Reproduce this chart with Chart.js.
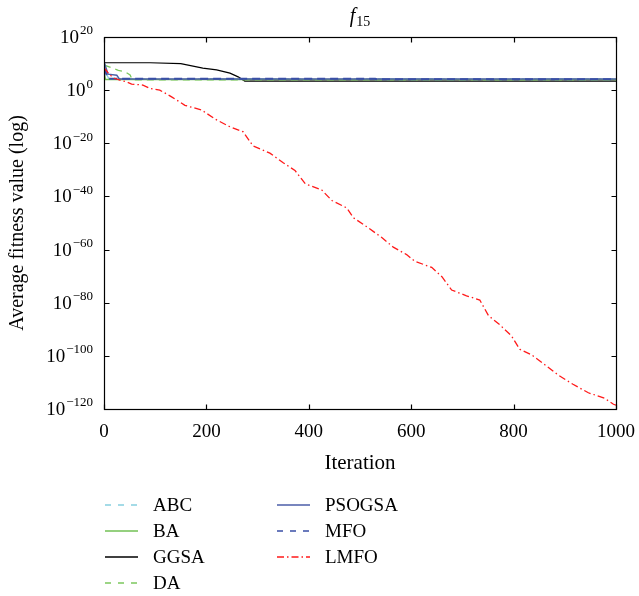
<!DOCTYPE html>
<html>
<head>
<meta charset="utf-8">
<script src="https://cdn.jsdelivr.net/npm/chart.js@4/dist/chart.umd.min.js"></script>
<style>
  html, body { margin: 0; padding: 0; background: #fff; }
  #wrap { width: 639px; height: 596px; }
</style>
</head>
<body>
<div id="wrap"><canvas id="c" width="639" height="596"></canvas></div>
<script>
// ---- data ----
const seriesNames = ['ABC', 'BA', 'GGSA', 'DA', 'PSOGSA', 'MFO', 'LMFO'];
const xTickValues = [0, 200, 400, 600, 800, 1000];
const yTickExponents = [20, 0, -20, -40, -60, -80, -100, -120];

const abcIter = [0, 5, 10, 1000];
const abcVal  = [1e11, 1e6, 1.3e4, 1.3e4];

const baIter = [0, 3, 1000];
const baVal  = [1e7, 1e4, 1e4];

const ggsaIter = [0, 90, 150, 193, 220, 246, 262, 275, 1000];
const ggsaVal  = [2e10, 2e10, 1e10, 2e8, 4e7, 2.5e6, 1e5, 2.5e3, 2.5e3];

const daIter = [0, 10, 28, 41, 51, 55, 1000];
const daVal  = [3e9, 6e8, 3e7, 8e6, 5e5, 8e3, 8e3];

const psogsaIter = [0, 8, 25, 30, 1000];
const psogsaVal  = [5e10, 1e6, 4e5, 1.6e4, 1.6e4];

const mfoIter = [0, 8, 530, 531, 1000];
const mfoVal  = [3e8, 1.8e4, 1.8e4, 1.3e4, 1.3e4];

const lmfoIter = [0, 10, 20, 31, 44, 54, 76, 90, 109, 132, 158, 191, 217, 246, 272, 291, 324, 350, 373, 393, 425, 445, 474, 487, 516, 542, 565, 591, 607, 640, 660, 679, 708, 734, 751, 773, 796, 812, 835, 858, 887, 916, 946, 978, 995, 1000];
const lmfoVal  = [3e8, 1e6, 3e4, 6e3, 1.3e3, 2e2, 80, 4, 1, 3e-3, 2e-6, 3e-8, 1.3e-11, 1.6e-14, 2e-16, 1e-21, 2e-24, 5e-28, 6e-31, 6e-36, 3e-38, 3e-42, 5e-45, 1e-48, 1.6e-52, 4e-56, 8e-60, 1.3e-62, 4e-65, 2e-67, 6e-71, 6e-76, 4e-78, 1e-79, 1.3e-85, 5e-89, 3e-93, 3e-98, 2.5e-100, 1.3e-103, 6e-108, 2e-111, 1.3e-114, 1e-116, 6e-119, 3e-119];

// ---- styles ----
const styles = [
  { color: '#86cfe0', dash: [7, 5], width: 1.3 },
  { color: '#72c054', dash: [], width: 1.3 },
  { color: '#000000', dash: [], width: 1.2 },
  { color: '#7cc85e', dash: [7, 5], width: 1.3 },
  { color: '#4b5ea8', dash: [], width: 1.4 },
  { color: '#3a4fa6', dash: [8, 5], width: 2 },
  { color: '#ff1a1a', dash: [7, 3, 1.5, 3], width: 1.3 }
];
const iters = [abcIter, baIter, ggsaIter, daIter, psogsaIter, mfoIter, lmfoIter];
const vals  = [abcVal, baVal, ggsaVal, daVal, psogsaVal, mfoVal, lmfoVal];

const datasets = seriesNames.map((name, i) => ({
  label: name,
  data: iters[i].map((x, k) => ({ x: x, y: vals[i][k] })),
  borderColor: styles[i].color,
  backgroundColor: styles[i].color,
  borderDash: styles[i].dash,
  borderWidth: styles[i].width,
  pointRadius: 0,
  tension: 0,
  fill: false,
  order: seriesNames.length - i
}));

const SERIF = "'Liberation Serif', 'DejaVu Serif', serif";

// frame with inward ticks (MATLAB box style) + power-of-ten y labels
const framePlugin = {
  id: 'frame',
  afterDatasetsDraw(chart) {
    const { ctx, chartArea: a, scales } = chart;
    ctx.save();
    ctx.strokeStyle = '#000';
    ctx.lineWidth = 1.2;
    ctx.setLineDash([]);
    const L = Math.round(a.left) + 0.5, R = Math.round(a.right) + 0.5;
    const T = Math.round(a.top) + 0.5, B = Math.round(a.bottom) + 0.5;
    ctx.strokeRect(L, T, R - L, B - T);
    const tl = 5;
    ctx.beginPath();
    scales.x.ticks.forEach(t => {
      const px = Math.round(scales.x.getPixelForValue(t.value)) + 0.5;
      ctx.moveTo(px, B); ctx.lineTo(px, B - tl);
      ctx.moveTo(px, T); ctx.lineTo(px, T + tl);
    });
    scales.y.ticks.forEach(t => {
      const py = Math.round(scales.y.getPixelForValue(t.value)) + 0.5;
      ctx.moveTo(L, py); ctx.lineTo(L + tl, py);
      ctx.moveTo(R, py); ctx.lineTo(R - tl, py);
    });
    ctx.stroke();

    // y tick labels: "10" with superscript exponent
    ctx.fillStyle = '#000';
    ctx.textBaseline = 'middle';
    ctx.textAlign = 'left';
    scales.y.ticks.forEach(t => {
      const e = Math.round(Math.log10(t.value));
      const expStr = e < 0 ? '\u2212' + String(-e) : String(e);
      const py = scales.y.getPixelForValue(t.value);
      ctx.font = '19px ' + SERIF;
      const bw = ctx.measureText('10').width;
      ctx.font = '13px ' + SERIF;
      const ew = ctx.measureText(expStr).width;
      const right = a.left - 11;
      const x0 = right - bw - ew - 1;
      ctx.font = '19px ' + SERIF;
      ctx.fillText('10', x0, py + 1);
      ctx.font = '13px ' + SERIF;
      ctx.fillText(expStr, x0 + bw + 1, py - 6);
    });
    ctx.restore();
  }
};

// title f15 (italic f, upright subscript)
const titlePlugin = {
  id: 'subTitle',
  afterDraw(chart) {
    const { ctx, chartArea: a } = chart;
    ctx.save();
    ctx.fillStyle = '#000';
    ctx.textBaseline = 'alphabetic';
    ctx.font = 'italic 20px ' + SERIF;
    const fW = ctx.measureText('f').width;
    ctx.font = '14px ' + SERIF;
    const sW = ctx.measureText('15').width;
    const cx = (a.left + a.right) / 2;
    const x0 = cx - (fW + sW + 1) / 2;
    ctx.font = 'italic 20px ' + SERIF;
    ctx.fillText('f', x0, 22);
    ctx.font = '14px ' + SERIF;
    ctx.fillText('15', x0 + fW + 1, 26);
    ctx.restore();
  }
};

// two-column legend below the axes
const legendPlugin = {
  id: 'colLegend',
  afterDraw(chart) {
    const { ctx } = chart;
    const cols = [{ lx: 105, tx: 153 }, { lx: 277, tx: 325 }];
    const rowY = [505, 531, 557, 583];
    const lineLen = 33;
    ctx.save();
    chart.data.datasets.forEach((ds, i) => {
      const col = cols[i < 4 ? 0 : 1];
      const y = rowY[i < 4 ? i : i - 4];
      ctx.beginPath();
      ctx.strokeStyle = ds.borderColor;
      ctx.lineWidth = 1.6;
      ctx.setLineDash(ds.borderDash.length === 2 ? [6, 7] : ds.borderDash);
      ctx.moveTo(col.lx, y);
      ctx.lineTo(col.lx + lineLen, y);
      ctx.stroke();
      ctx.setLineDash([]);
      ctx.fillStyle = '#000';
      ctx.font = '19px ' + SERIF;
      ctx.textBaseline = 'middle';
      ctx.fillText(ds.label, col.tx, y + 1);
    });
    ctx.restore();
  }
};

new Chart(document.getElementById('c'), {
  type: 'line',
  data: { datasets: datasets },
  plugins: [framePlugin, titlePlugin, legendPlugin],
  options: {
    responsive: false,
    devicePixelRatio: 1,
    animation: false,
    layout: { padding: { left: 0, right: 22, top: 37, bottom: 120 } },
    plugins: {
      legend: { display: false },
      title: { display: false },
      tooltip: { enabled: false }
    },
    scales: {
      x: {
        type: 'linear',
        min: 0,
        max: 1000,
        afterBuildTicks(scale) { scale.ticks = xTickValues.map(v => ({ value: v })); },
        afterFit(scale) { scale.height = 67; },
        grid: { display: false },
        border: { display: false },
        ticks: { color: '#000', font: { family: SERIF, size: 19 }, padding: 4, maxRotation: 0, callback: (v) => String(v) },
        title: { display: true, text: 'Iteration', color: '#000', font: { family: SERIF, size: 21 }, padding: { top: 10, bottom: 0 } }
      },
      y: {
        type: 'logarithmic',
        min: 1e-120,
        max: 1e20,
        afterBuildTicks(scale) { scale.ticks = yTickExponents.map(e => ({ value: Math.pow(10, e) })); },
        afterFit(scale) { scale.width = 104; },
        grid: { display: false },
        border: { display: false },
        ticks: { display: false },
        title: { display: true, text: 'Average fitness value (log)', color: '#000', font: { family: SERIF, size: 20 }, padding: { top: 6, bottom: 0 } }
      }
    }
  }
});
</script>
</body>
</html>
